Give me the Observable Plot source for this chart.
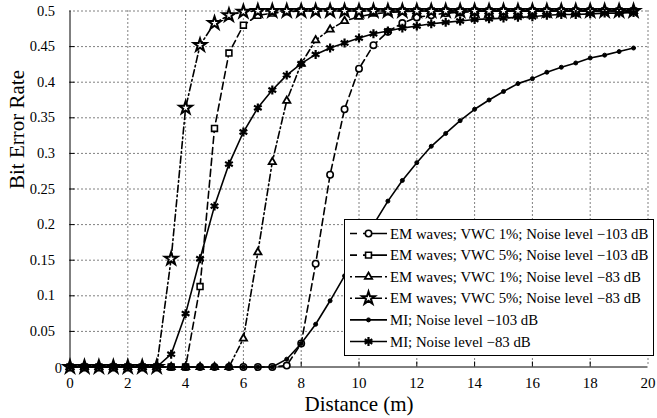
<!DOCTYPE html>
<html>
<head>
<meta charset="utf-8">
<script src="https://cdn.jsdelivr.net/npm/d3@7"></script>
<script src="https://cdn.jsdelivr.net/npm/@observablehq/plot@0.6"></script>
<style>
  html, body { margin: 0; padding: 0; background: #fff; }
  svg { display: block; }
</style>
</head>
<body>
<div id="chart"></div>
<script>
// ---------- data ----------
const distance = [0, 0.5, 1, 1.5, 2, 2.5, 3, 3.5, 4, 4.5, 5, 5.5, 6, 6.5, 7, 7.5, 8, 8.5, 9, 9.5,
  10, 10.5, 11, 11.5, 12, 12.5, 13, 13.5, 14, 14.5, 15, 15.5, 16, 16.5, 17, 17.5, 18, 18.5, 19, 19.5];

const xTicks = [0, 2, 4, 6, 8, 10, 12, 14, 16, 18, 20];
const xTickLabels = ["0", "2", "4", "6", "8", "10", "12", "14", "16", "18", "20"];
const yTicks = [0, 0.05, 0.1, 0.15, 0.2, 0.25, 0.3, 0.35, 0.4, 0.45, 0.5];
const yTickLabels = ["0", "0.05", "0.1", "0.15", "0.2", "0.25", "0.3", "0.35", "0.4", "0.45", "0.5"];

const xLabel = "Distance (m)";
const yLabel = "Bit Error Rate";

const seriesNames = [
  "EM waves; VWC 1%; Noise level \u2212103 dB",
  "EM waves; VWC 5%; Noise level \u2212103 dB",
  "EM waves; VWC 1%; Noise level \u221283 dB",
  "EM waves; VWC 5%; Noise level \u221283 dB",
  "MI; Noise level \u2212103 dB",
  "MI; Noise level \u221283 dB"
];

const emVwc1Noise103 = [0, 0, 0, 0, 0, 0, 0, 0, 0, 0, 0, 0, 0, 0, 0, 0.002,
  0.033, 0.145, 0.270, 0.362, 0.419, 0.452, 0.471, 0.483, 0.491, 0.494, 0.497, 0.498, 0.499,
  0.5, 0.5, 0.5, 0.5, 0.5, 0.5, 0.5, 0.5, 0.5, 0.5, 0.5];

const emVwc5Noise103 = [0, 0, 0, 0, 0, 0, 0, 0, 0,
  0.113, 0.335, 0.441, 0.480, 0.494, 0.497, 0.499,
  0.5, 0.5, 0.5, 0.5, 0.5, 0.5, 0.5, 0.5, 0.5, 0.5, 0.5, 0.5, 0.5, 0.5, 0.5, 0.5,
  0.5, 0.5, 0.5, 0.5, 0.5, 0.5, 0.5, 0.5];

const emVwc1Noise83 = [0, 0, 0, 0, 0, 0, 0, 0, 0, 0, 0, 0,
  0.040, 0.161, 0.288, 0.374, 0.426, 0.459, 0.474, 0.486, 0.492, 0.496, 0.498, 0.499,
  0.5, 0.5, 0.5, 0.5, 0.5, 0.5, 0.5, 0.5, 0.5, 0.5, 0.5, 0.5, 0.5, 0.5, 0.5, 0.5];

const emVwc5Noise83 = [0, 0, 0, 0, 0, 0, 0,
  0.152, 0.364, 0.452, 0.483, 0.494, 0.499,
  0.5, 0.5, 0.5, 0.5, 0.5, 0.5, 0.5, 0.5, 0.5, 0.5, 0.5, 0.5, 0.5, 0.5, 0.5, 0.5, 0.5,
  0.5, 0.5, 0.5, 0.5, 0.5, 0.5, 0.5, 0.5, 0.5, 0.5];

const miNoise103 = [0, 0, 0, 0, 0, 0, 0, 0, 0, 0, 0, 0, 0, 0, 0,
  0.011, 0.033, 0.060, 0.093, 0.128, 0.165, 0.200, 0.233, 0.262, 0.287, 0.310, 0.328, 0.346,
  0.362, 0.375, 0.387, 0.398, 0.405, 0.414, 0.421, 0.427, 0.434, 0.438, 0.443, 0.448];

const miNoise83 = [0, 0, 0, 0, 0, 0, 0,
  0.018, 0.075, 0.152, 0.226, 0.285, 0.330, 0.364, 0.389, 0.410, 0.426, 0.439, 0.448, 0.455,
  0.462, 0.468, 0.472, 0.476, 0.479, 0.482, 0.484, 0.486, 0.488, 0.489, 0.490, 0.491, 0.492,
  0.494, 0.495, 0.495, 0.496, 0.497, 0.497, 0.498];

const seriesValues = [emVwc1Noise103, emVwc5Noise103, emVwc1Noise83, emVwc5Noise83, miNoise103, miNoise83];

// ---------- styles ----------
const DASH = "7,4";
const DASHDOT = "7,3,1.6,3";
const styles = [
  {dash: DASH,    legendDash: "7,6,30",          symbol: "circle",   r: 3.2, fill: "white", sw: 1.6},
  {dash: DASH,    legendDash: "7,6,30",          symbol: "square",   r: 3.3, fill: "white", sw: 1.6},
  {dash: DASHDOT, legendDash: "2,3,27,3,2,10",   symbol: "triangle", r: 2.7, fill: "white", sw: 1.8},
  {dash: DASHDOT, legendDash: "2,3,27,3,2,10",   symbol: "star",     r: 4.0, fill: "white", sw: 2.0},
  {dash: null,    legendDash: null,              symbol: "circle",   r: 2.0, fill: "black", sw: 1},
  {dash: null,    legendDash: null,              symbol: "asterisk", r: 4.2, fill: "none",  sw: 2.2}
];

const FONT = "'Liberation Serif', 'Times New Roman', serif";
const W = 657, H = 418;
const M = {top: 10.5, right: 9.5, bottom: 51.5, left: 69.5};
const frameH = H - M.top - M.bottom;
const frameW = W - M.left - M.right;

const seriesMarks = [];
seriesNames.forEach((name, k) => {
  const rows = distance.map((x, i) => ({x, y: seriesValues[k][i], series: name}));
  const s = styles[k];
  seriesMarks.push(Plot.line(rows, {x: "x", y: "y", stroke: "black", strokeWidth: 1.6,
    strokeDasharray: s.dash ?? undefined, strokeLinejoin: "round"}));
  seriesMarks.push(Plot.dot(rows, {x: "x", y: "y", symbol: s.symbol, r: s.r,
    stroke: "black", fill: s.fill, strokeWidth: s.sw}));
});

const chart = Plot.plot({
  width: W,
  height: H,
  marginTop: M.top,
  marginRight: M.right,
  marginBottom: M.bottom,
  marginLeft: M.left,
  style: {fontFamily: FONT, fontSize: "14px", background: "white", color: "black", overflow: "visible"},
  x: {domain: [0, 20]},
  y: {domain: [0, 0.5]},
  marks: [
    Plot.gridX(xTicks.slice(1), {stroke: "black", strokeOpacity: 1, strokeWidth: 1, strokeDasharray: "1,3"}),
    Plot.gridY(yTicks.slice(1), {stroke: "black", strokeOpacity: 1, strokeWidth: 1, strokeDasharray: "1,3"}),
    Plot.tickX(xTicks.slice(1, -1), {x: d => d, stroke: "black", insetTop: frameH - 5}),
    Plot.tickY(yTicks.slice(1, -1), {y: d => d, stroke: "black", insetRight: frameW - 5}),
    Plot.ruleX([0], {stroke: "black", strokeWidth: 1}),
    Plot.ruleY([0], {stroke: "black", strokeWidth: 1}),
    ...seriesMarks,
    Plot.axisX({ticks: xTicks, tickFormat: (d, i) => xTickLabels[i], tickSize: 0, tickPadding: 10.5, fontSize: 15, label: null}),
    Plot.axisY({ticks: yTicks.slice(1), tickFormat: (d, i) => yTickLabels[i + 1], tickSize: 0, tickPadding: 15, fontSize: 14.5, label: null}),
    Plot.axisY({ticks: yTicks.slice(0, 1), tickFormat: () => yTickLabels[0], tickSize: 0, tickPadding: 8, dy: 1.5, fontSize: 14.5, label: null}),
    Plot.text([xLabel], {frameAnchor: "bottom", lineAnchor: "top", dy: 29.5, fontSize: 21}),
    Plot.text([yLabel], {frameAnchor: "left", dx: -53, rotate: -90, fontSize: 21})
  ]
});

document.getElementById("chart").appendChild(chart);

// ---------- legend (drawn in the same SVG) ----------
const svg = d3.select(chart);
const legend = {x: 344, y: 219, w: 309, h: 136, rowY0: 233.5, rowStep: 21.6, lineX1: 350, lineX2: 387, textX: 390};
const lg = svg.append("g").attr("font-family", FONT).attr("font-size", 14.8).attr("text-anchor", "start");
lg.append("rect").attr("x", legend.x + 0.5).attr("y", legend.y + 0.5)
  .attr("width", legend.w).attr("height", legend.h)
  .attr("fill", "white").attr("stroke", "black").attr("stroke-width", 1);
const symbolMap = {circle: d3.symbolCircle, square: d3.symbolSquare, triangle: d3.symbolTriangle, star: d3.symbolStar, asterisk: d3.symbolAsterisk};
seriesNames.forEach((name, k) => {
  const s = styles[k];
  const cy = legend.rowY0 + k * legend.rowStep;
  const line = lg.append("line").attr("x1", legend.lineX1).attr("x2", legend.lineX2).attr("y1", cy).attr("y2", cy)
    .attr("stroke", "black").attr("stroke-width", 1.6);
  if (s.legendDash) line.attr("stroke-dasharray", s.legendDash);
  lg.append("path").attr("transform", `translate(${(legend.lineX1 + legend.lineX2) / 2},${cy})`)
    .attr("d", d3.symbol(symbolMap[s.symbol], Math.PI * s.r * s.r)())
    .attr("fill", s.fill).attr("stroke", "black").attr("stroke-width", s.sw);
  lg.append("text").attr("x", legend.textX).attr("y", cy).attr("dy", "0.35em").attr("fill", "black").text(name);
});
</script>
</body>
</html>
